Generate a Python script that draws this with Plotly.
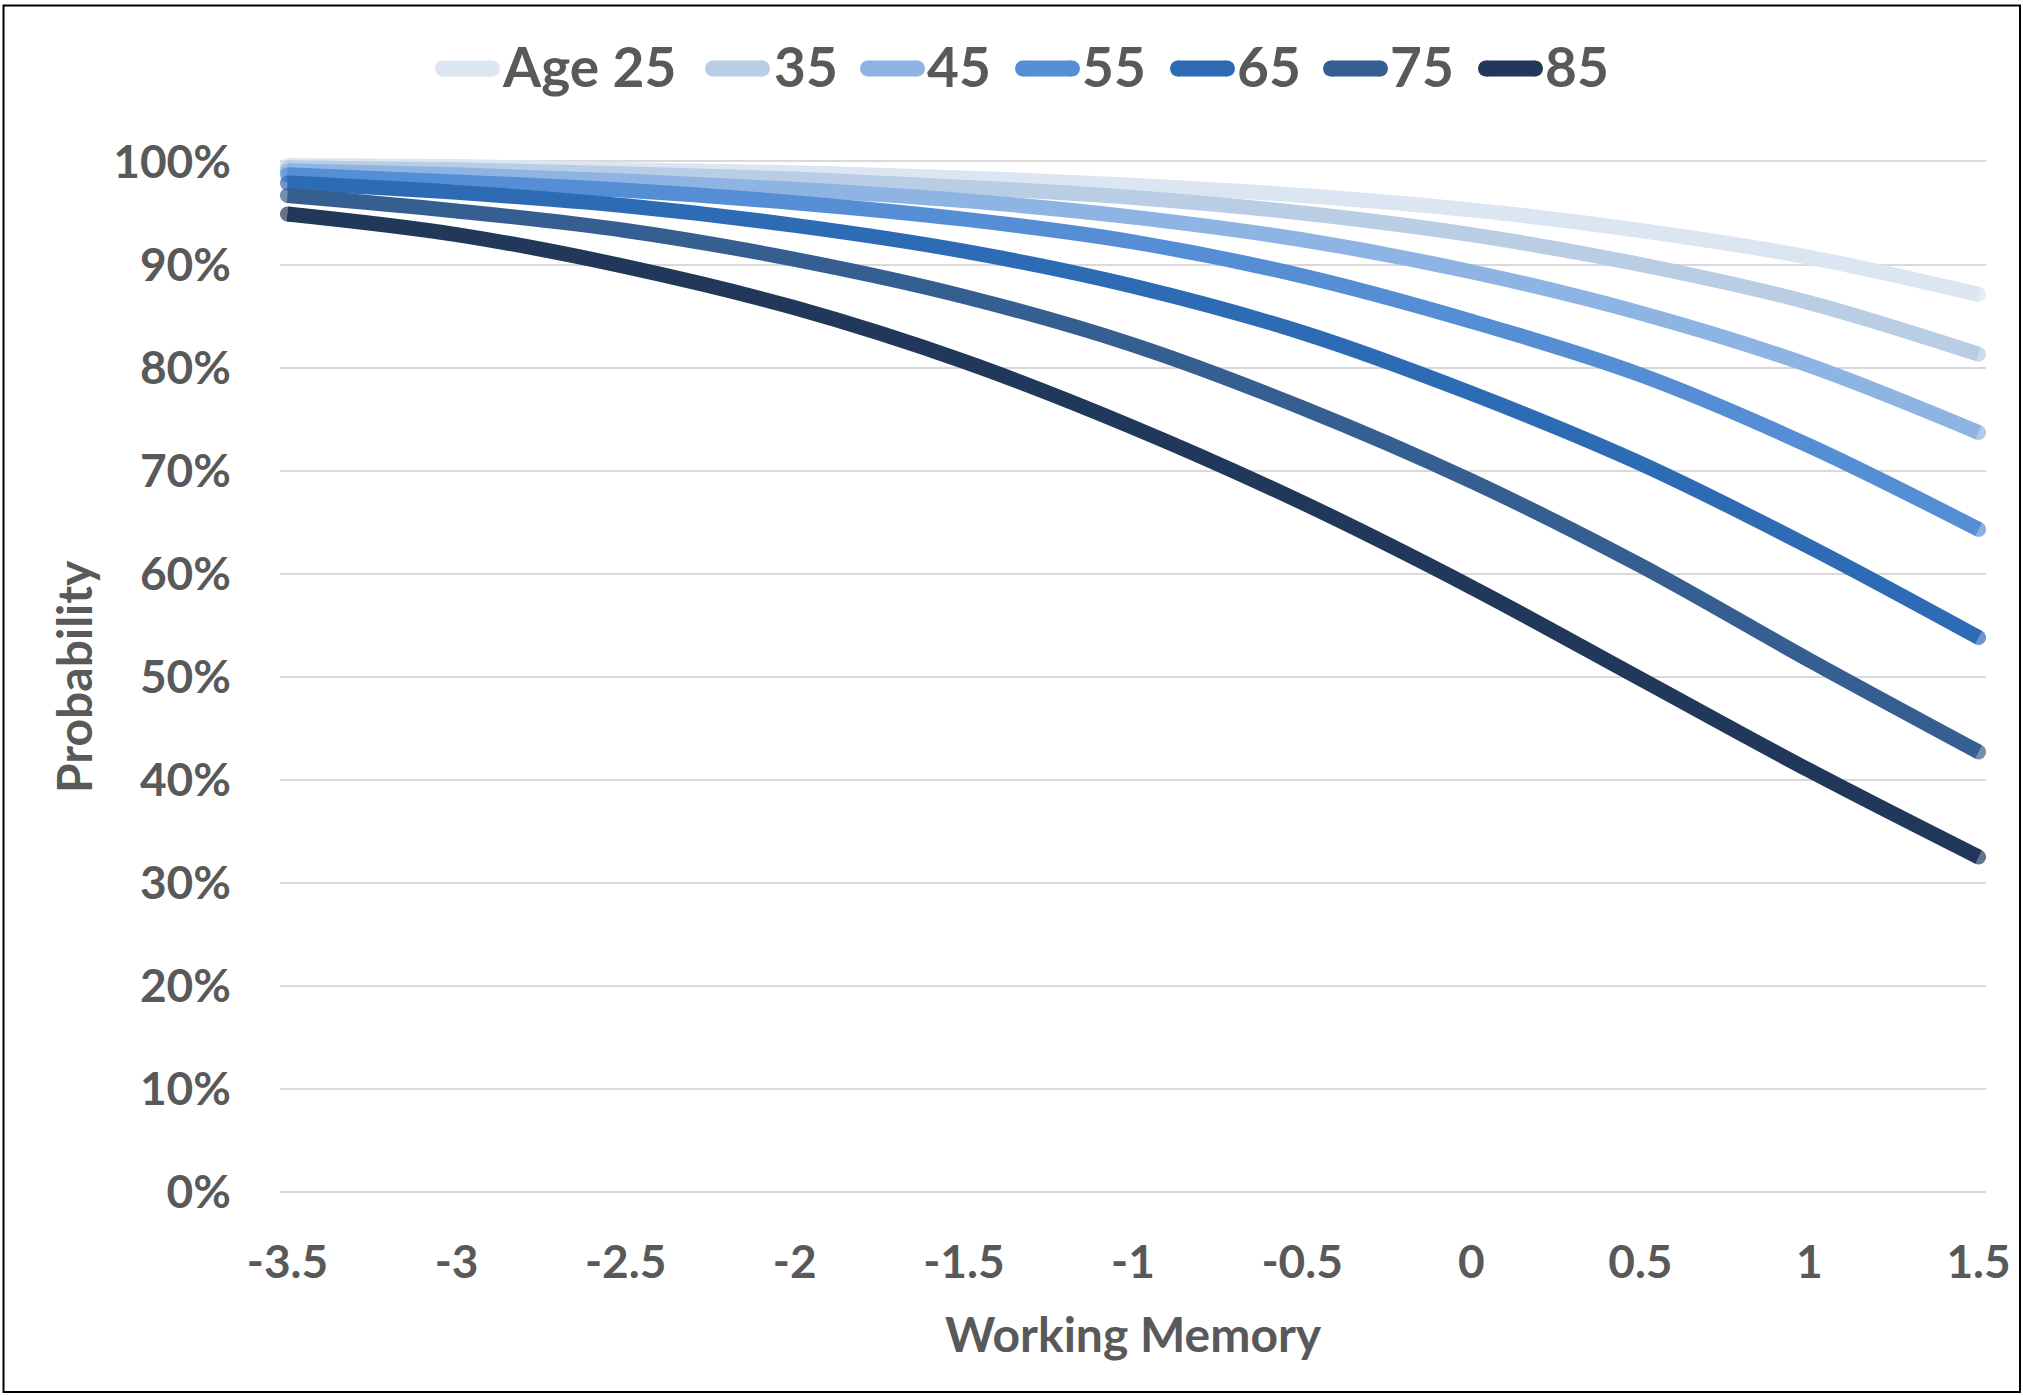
import plotly.graph_objects as go

# Working memory scores (x) and predicted probability (%) for each age group
working_memory = [-3.5, -3.0, -2.5, -2.0, -1.5, -1.0, -0.5, 0.0, 0.5, 1.0, 1.5]

age_25 = [99.6, 99.5, 99.2, 98.9, 98.4, 97.7, 96.7, 95.3, 93.3, 90.7, 87.1]
age_35 = [99.4, 99.2, 98.8, 98.3, 97.5, 96.5, 95.0, 92.9, 90.0, 86.3, 81.3]
age_45 = [99.1, 98.7, 98.1, 97.3, 96.2, 94.6, 92.4, 89.3, 85.3, 80.2, 73.7]
age_55 = [98.7, 98.0, 97.2, 96.0, 94.4, 92.2, 88.9, 84.5, 79.3, 72.4, 64.3]
age_65 = [97.9, 97.0, 95.7, 93.8, 91.3, 87.9, 83.4, 77.5, 70.7, 62.6, 53.8]
age_75 = [96.7, 95.2, 93.3, 90.5, 86.9, 82.2, 76.1, 69.0, 60.8, 51.6, 42.7]
age_85 = [94.9, 92.9, 89.8, 85.8, 80.6, 74.2, 66.9, 58.7, 49.8, 40.9, 32.5]

series_names = ["Age 25", "35", "45", "55", "65", "75", "85"]
series_values = [age_25, age_35, age_45, age_55, age_65, age_75, age_85]
series_colors = ["#DCE6F2", "#B9CDE5", "#8EB4E3", "#558ED5", "#2E6BB5", "#365F91", "#21385A"]

x_tick_vals = [-3.5, -3.0, -2.5, -2.0, -1.5, -1.0, -0.5, 0.0, 0.5, 1.0, 1.5]
x_tick_text = ["-3.5", "-3", "-2.5", "-2", "-1.5", "-1", "-0.5", "0", "0.5", "1", "1.5"]
y_tick_vals = [0, 10, 20, 30, 40, 50, 60, 70, 80, 90, 100]
y_tick_text = ["0%", "10%", "20%", "30%", "40%", "50%", "60%", "70%", "80%", "90%", "100%"]

# Canvas and plot-area geometry (pixels)
W, H = 2023, 1395
L, R, T, B = 280, 37, 146, 201
plot_w = W - L - R
plot_h = H - T - B

TEXT = "#595959"
FONT = "Lato"


def px_x(x):
    return (x - L) / plot_w


def px_y(y):
    return (H - B - y) / plot_h


fig = go.Figure()

for name, vals, col in zip(series_names, series_values, series_colors):
    n = len(vals)
    fig.add_trace(go.Scatter(
        x=working_memory, y=vals, name=name,
        mode="lines+markers",
        line=dict(color=col, width=15, shape="spline", smoothing=1.0),
        marker=dict(size=[15] + [0] * (n - 2) + [15], color=col, line=dict(width=0)),
        showlegend=False,
    ))

shapes = []
annotations = []

# Legend row: thick rounded swatch followed by its label
swatch_starts = [435, 705, 860, 1015, 1170, 1323, 1478]
label_starts = [500, 772, 925, 1080, 1235, 1388, 1543]
sw_len, sw_r, sw_y = 65, 8, 68.5
for name, col, sx, lx in zip(series_names, series_colors, swatch_starts, label_starts):
    a, b = sx + sw_r, sx + sw_len - sw_r
    shapes.append(dict(type="line", xref="paper", yref="paper",
                       x0=px_x(a), x1=px_x(b), y0=px_y(sw_y), y1=px_y(sw_y),
                       line=dict(color=col, width=2 * sw_r), layer="above"))
    for c in (a, b):
        shapes.append(dict(type="circle", xref="paper", yref="paper",
                           x0=px_x(c - sw_r), x1=px_x(c + sw_r),
                           y0=px_y(sw_y - sw_r), y1=px_y(sw_y + sw_r),
                           fillcolor=col, line=dict(width=0), layer="above"))
    annotations.append(dict(text=name, xref="paper", yref="paper",
                            x=px_x(lx), y=px_y(66), xanchor="left", yanchor="middle",
                            showarrow=False,
                            font=dict(family=FONT, size=55, color=TEXT, weight="bold")))

# Axis titles
annotations.append(dict(text="Working Memory", xref="paper", yref="paper",
                        x=px_x(1133), y=px_y(1333), xanchor="center", yanchor="middle",
                        showarrow=False,
                        font=dict(family=FONT, size=48, color=TEXT, weight="bold")))
annotations.append(dict(text="Probability", xref="paper", yref="paper",
                        x=px_x(73), y=px_y(677), xanchor="center", yanchor="middle",
                        textangle=-90, showarrow=False,
                        font=dict(family=FONT, size=48, color=TEXT, weight="bold")))

# Thin frame around the whole chart
shapes.append(dict(type="rect", xref="paper", yref="paper",
                   x0=px_x(3.5), x1=px_x(2020), y0=px_y(5.5), y1=px_y(1392),
                   line=dict(color="#000000", width=2), fillcolor="rgba(0,0,0,0)",
                   layer="above"))

fig.update_layout(
    width=W, height=H,
    margin=dict(l=L, r=R, t=T, b=B, pad=0),
    paper_bgcolor="#FFFFFF", plot_bgcolor="#FFFFFF",
    font=dict(family=FONT, size=46, color=TEXT, weight="bold"),
    showlegend=False,
    shapes=shapes,
    annotations=annotations,
    xaxis=dict(
        range=[-3.522, 1.522],
        tickvals=x_tick_vals, ticktext=x_tick_text,
        showgrid=False, zeroline=False, showline=False,
        ticks="", ticklabelstandoff=37,
        tickfont=dict(family=FONT, size=46, color=TEXT, weight="bold"),
    ),
    yaxis=dict(
        range=[-0.2, 101.5],
        tickvals=y_tick_vals, ticktext=y_tick_text,
        showgrid=True, gridcolor="#D9D9D9", gridwidth=2,
        zeroline=False, showline=False,
        ticks="", ticklabelstandoff=48,
        tickfont=dict(family=FONT, size=46, color=TEXT, weight="bold"),
    ),
)

fig.write_html("out.html")
